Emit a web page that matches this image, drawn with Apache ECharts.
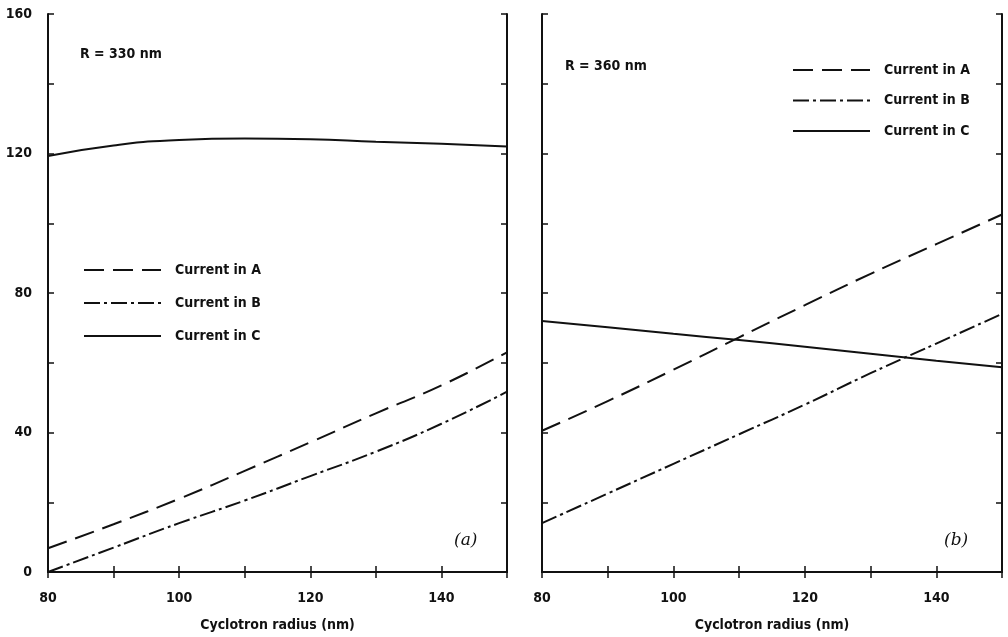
<!DOCTYPE html>
<html>
<head>
<meta charset="utf-8">
<script src="https://cdn.jsdelivr.net/npm/echarts@6/dist/echarts.min.js"></script>
<style>
html,body{margin:0;padding:0;background:#fff;}
#chart{width:1008px;height:637px;}
</style>
</head>
<body>
<div id="chart"></div>
<script>
// ---- data ----
const radius = [80, 90, 100, 110, 120, 130, 140, 150];
// Panel (a) R = 330 nm
const a_currentA = [6.8, 13.7, 21, 29, 37.2, 45.5, 53.5, 63];
const a_currentB = [0, 7, 14, 20.5, 27.5, 34.5, 42.5, 51.7];
const a_currentC = [119.3, 122.3, 123.9, 124.3, 124.1, 123.4, 122.8, 122];
// Panel (b) R = 360 nm
const b_currentA = [40.5, 49, 58, 67.3, 76.5, 85.5, 94, 102.5];
const b_currentB = [14, 22.5, 31, 39.5, 48, 57, 65.5, 74];
const b_currentC = [72, 70.2, 68.3, 66.5, 64.6, 62.6, 60.6, 58.7];
const seriesNames = ['Current in A', 'Current in B', 'Current in C'];
const panelTitles = ['R = 330 nm', 'R = 360 nm'];
const panelTags = ['(a)', '(b)'];
const xTitle = 'Cyclotron radius (nm)';

const FONT = '"DejaVu Sans Condensed", "Liberation Sans Narrow", sans-serif';
const INK = '#111';
const dashA = [20, 9];
const dashB = [16, 4, 3, 4];

function pairs(ys) { return radius.map((x, i) => [x, ys[i]]); }

const grids = [
  { left: 48, right: 501, top: 14, bottom: 65 },
  { left: 542, right: 6, top: 14, bottom: 65 }
];

const txt = { fontFamily: FONT, fontSize: 14, fontWeight: 'bold', color: INK };

const xAxes = [], yAxes = [];
[0, 1].forEach(g => {
  xAxes.push({
    type: 'value', gridIndex: g, min: 80, max: 150, interval: 10, position: 'bottom',
    name: xTitle, nameLocation: 'middle', nameGap: 46,
    nameTextStyle: Object.assign({}, txt),
    axisLine: { show: true, lineStyle: { color: INK, width: 2 } },
    axisTick: { show: true, inside: true, length: 6, lineStyle: { color: INK, width: 1.5 } },
    axisLabel: Object.assign({ margin: 19, formatter: v => (v % 20 === 0 ? String(v) : ''), showMaxLabel: false }, txt),
    splitLine: { show: false }
  });
  xAxes.push({
    type: 'value', gridIndex: g, min: 80, max: 150, interval: 10, position: 'top',
    axisLine: { show: true, lineStyle: { color: INK, width: 2 } },
    axisTick: { show: true, inside: true, length: 6, lineStyle: { color: INK, width: 1.5 } },
    axisLabel: { show: false }, splitLine: { show: false }
  });
  yAxes.push({
    type: 'value', gridIndex: g, min: 0, max: 160, interval: 20, position: 'left',
    axisLine: { show: true, lineStyle: { color: INK, width: 2 } },
    axisTick: { show: true, inside: true, length: 6, lineStyle: { color: INK, width: 1.5 } },
    axisLabel: Object.assign({ show: g === 0, margin: 16, formatter: v => (v % 40 === 0 ? String(v) : '') }, txt),
    splitLine: { show: false }
  });
  yAxes.push({
    type: 'value', gridIndex: g, min: 0, max: 160, interval: 20, position: 'right',
    axisLine: { show: true, lineStyle: { color: INK, width: 2 } },
    axisTick: { show: true, inside: true, length: 6, lineStyle: { color: INK, width: 1.5 } },
    axisLabel: { show: false }, splitLine: { show: false }
  });
});

function line(name, g, data, type) {
  return {
    name: name, type: 'line', xAxisIndex: g * 2, yAxisIndex: g * 2,
    data: pairs(data), smooth: true, showSymbol: false, symbol: 'none',
    lineStyle: { color: INK, width: 2, type: type },
    itemStyle: { color: INK },
    silent: true, animation: false
  };
}

const series = [
  line(seriesNames[0], 0, a_currentA, dashA),
  line(seriesNames[1], 0, a_currentB, dashB),
  line(seriesNames[2], 0, a_currentC, 'solid'),
  line(seriesNames[0], 1, b_currentA, dashA),
  line(seriesNames[1], 1, b_currentB, dashB),
  line(seriesNames[2], 1, b_currentC, 'solid')
];

function legend(left, top, gap) {
  return {
    orient: 'vertical', left: left, top: top, data: seriesNames, padding: 0,
    itemWidth: 77, itemHeight: 14, itemGap: gap, selectedMode: false,
    itemStyle: { opacity: 0 },
    lineStyle: { width: 2 },
    textStyle: Object.assign({ padding: [0, 0, 0, 9] }, txt)
  };
}

const option = {
  backgroundColor: '#fff',
  animation: false,
  grid: grids,
  xAxis: xAxes,
  yAxis: yAxes,
  legend: [ legend(83, 263, 19), legend(792, 63, 16.5) ],
  series: series,
  graphic: [
    { type: 'text', left: 80, top: 47, style: { text: panelTitles[0], font: 'bold 14px ' + FONT, fill: INK } },
    { type: 'text', left: 565, top: 59, style: { text: panelTitles[1], font: 'bold 14px ' + FONT, fill: INK } },
    { type: 'text', left: 454, top: 532, style: { text: panelTags[0], font: 'italic 17px "DejaVu Serif", serif', fill: INK } },
    { type: 'text', left: 944, top: 532, style: { text: panelTags[1], font: 'italic 17px "DejaVu Serif", serif', fill: INK } }
  ]
};

const chart = echarts.init(document.getElementById('chart'), null, { renderer: 'canvas' });
chart.setOption(option);
</script>
</body>
</html>
